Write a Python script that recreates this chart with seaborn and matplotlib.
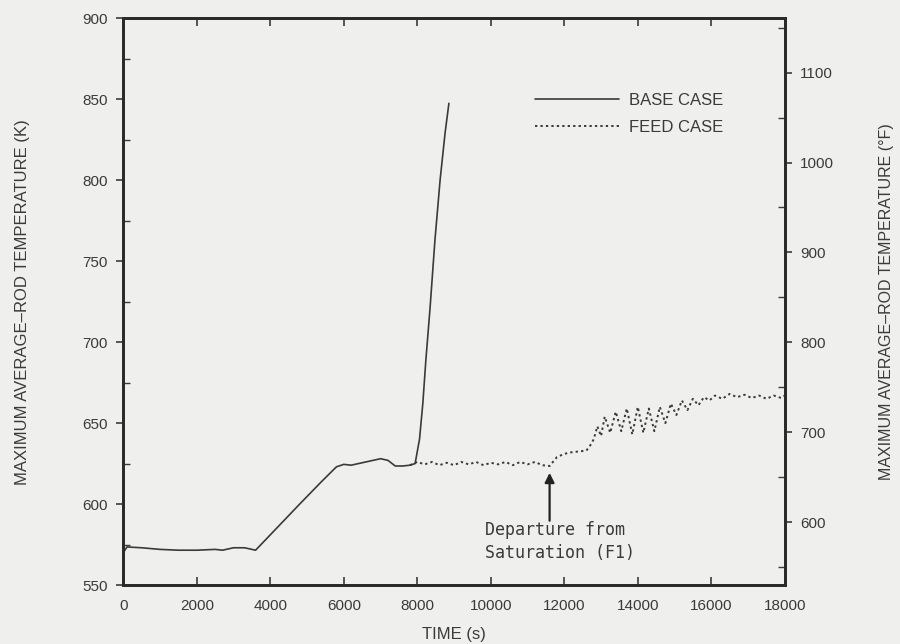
import numpy as np
import pandas as pd
import matplotlib
matplotlib.use("Agg")
import matplotlib.pyplot as plt
from matplotlib.ticker import MultipleLocator
import seaborn as sns

# ---- data ----
base_time = [0, 100, 500, 1000, 1500, 2000, 2500, 2700, 3000, 3300, 3600,
             4000, 4800, 5400, 5800, 6000, 6200, 6500, 6800, 7000, 7200,
             7400, 7600, 7800, 7940, 8060, 8150, 8230, 8350, 8480, 8620, 8755, 8860]
base_temp = [570, 573.5, 573, 572, 571.5, 571.5, 572, 571.5, 573, 573, 571.5,
             581, 600, 614, 623, 624.5, 624, 625.5, 627, 628, 627,
             623.5, 623.5, 624, 625, 640, 662, 688, 722, 763, 800, 829, 847.5]

feed_time = [7800, 8000, 8200, 8400, 8600, 8800, 9000, 9200, 9400, 9600,
             9800, 10000, 10200, 10400, 10600, 10800, 11000, 11200, 11400,
             11600, 11800, 12000, 12200, 12400, 12600, 12700, 12800, 12900,
             13000, 13100, 13250, 13400, 13550, 13700, 13850, 14000, 14150,
             14300, 14450, 14600, 14750, 14900, 15050, 15200, 15350, 15500,
             15650, 15800, 15950, 16100, 16300, 16500, 16700, 16900, 17100,
             17300, 17500, 17700, 17900, 18000]
feed_temp = [624, 626, 624.5, 626, 624, 625.5, 624, 626, 624.5, 626,
             624, 625.5, 624.5, 626, 624, 626, 624.5, 626, 624,
             623.5, 629, 631, 632, 632.5, 633, 636, 640, 648,
             642, 654, 644, 657, 645, 659, 643, 660, 644,
             659, 645, 660, 650, 662, 655, 664, 658, 665,
             661, 666, 664, 667, 665, 668, 666, 667.5, 665.5,
             667, 665, 667, 665.5, 667]

x_ticks = [0, 2000, 4000, 6000, 8000, 10000, 12000, 14000, 16000, 18000]
k_ticks = [550, 600, 650, 700, 750, 800, 850, 900]
f_ticks = [600, 700, 800, 900, 1000, 1100]

base_df = pd.DataFrame({"time": base_time, "temp": base_temp, "case": "BASE CASE"})
feed_df = pd.DataFrame({"time": feed_time, "temp": feed_temp, "case": "FEED CASE"})

# ---- styling ----
sns.set_theme(style="ticks")
plt.rcParams["font.family"] = ["Liberation Sans Narrow", "Liberation Sans", "DejaVu Sans"]
bg = "#efefed"
ink = "#3a3a3a"

fig = plt.figure(figsize=(9, 6.44), dpi=100, facecolor=bg)
ax = fig.add_axes([0.137, 0.0916, 0.735, 0.880], facecolor=bg)

sns.lineplot(data=feed_df, x="time", y="temp", ax=ax, color=ink,
             linestyle=(0, (1.2, 1.6)), linewidth=1.4, label="FEED CASE",
             sort=False, estimator=None)
sns.lineplot(data=base_df, x="time", y="temp", ax=ax, color=ink,
             linestyle="-", linewidth=1.2, label="BASE CASE",
             sort=False, estimator=None)

ax.set_xlim(0, 18000)
ax.set_ylim(550, 900)
ax.set_xticks(x_ticks)
ax.set_xticklabels([str(v) for v in x_ticks])
ax.set_yticks(k_ticks)
ax.yaxis.set_minor_locator(MultipleLocator(25))
ax.set_xlabel("TIME (s)", fontsize=12, color=ink, labelpad=10)
ax.set_ylabel("MAXIMUM AVERAGE\u2013ROD TEMPERATURE (K)", fontsize=12, color=ink, labelpad=38)
ax.tick_params(axis="x", direction="in", top=True, length=6, width=1.2,
               labelsize=11, colors=ink, pad=10)
ax.tick_params(axis="y", which="major", direction="out", length=5, width=1.2,
               labelsize=11, colors=ink, pad=6)
ax.tick_params(axis="y", which="minor", direction="in", length=5, width=1.0,
               colors=ink, left=True)
for s in ax.spines.values():
    s.set_linewidth(2.0)
    s.set_color("#2a2a2a")

# right-hand Fahrenheit axis
ax2 = ax.twinx()
ax2.set_ylim(550 * 1.8 - 459.67, 900 * 1.8 - 459.67)
ax2.set_yticks(f_ticks)
ax2.yaxis.set_minor_locator(MultipleLocator(50))
ax2.tick_params(axis="y", which="major", direction="out", length=5, width=1.2,
                labelsize=11, colors=ink, pad=6)
ax2.tick_params(axis="y", which="minor", direction="in", length=5, width=1.0, colors=ink)
ax2.set_ylabel("MAXIMUM AVERAGE\u2013ROD TEMPERATURE (\u00b0F)", fontsize=11.5, color=ink,
               labelpad=32)
for s in ax2.spines.values():
    s.set_linewidth(2.0)
    s.set_color("#2a2a2a")

# legend (base first)
handles, labels = ax.get_legend_handles_labels()
order = [labels.index("BASE CASE"), labels.index("FEED CASE")]
ax.legend([handles[i] for i in order], [labels[i] for i in order],
          loc="upper left", bbox_to_anchor=(0.6, 0.895), frameon=False,
          fontsize=12, handlelength=5.0, handletextpad=0.6, labelspacing=0.75,
          labelcolor=ink)

# annotation
ax.annotate("", xy=(11600, 621), xytext=(11600, 588),
            arrowprops=dict(arrowstyle="-|>", color="#222222", lw=1.6,
                            mutation_scale=14))
ax.text(9850, 584, "Departure from", fontsize=12, family="DejaVu Sans Mono",
        color=ink, va="center", ha="left")
ax.text(9850, 569.5, "Saturation (F1)", fontsize=12, family="DejaVu Sans Mono",
        color=ink, va="center", ha="left")

fig.savefig("out.png", dpi=100, facecolor=bg)
